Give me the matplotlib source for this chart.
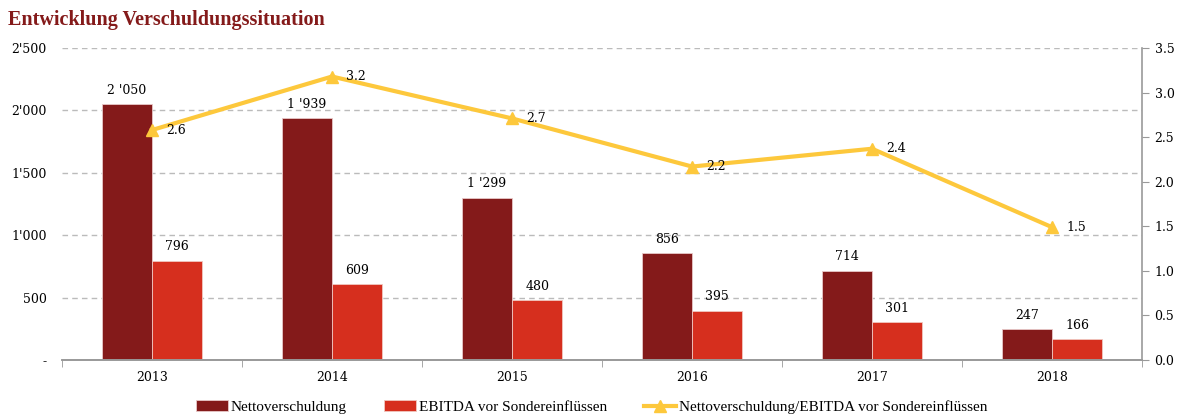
import numpy as np
import matplotlib.pyplot as plt
from matplotlib.ticker import FuncFormatter

years = ['2013', '2014', '2015', '2016', '2017', '2018']
netto = [2050, 1939, 1299, 856, 714, 247]
ebitda = [796, 609, 480, 395, 301, 166]
ratio = [2.58, 3.18, 2.71, 2.17, 2.37, 1.49]

DARK = '#841a1a'
RED = '#d62f1e'
YELLOW = '#fdc83c'
GREY = '#999999'
NUM_FONT = ['DejaVu Serif']

plt.rcParams['font.family'] = ['Liberation Serif', 'DejaVu Serif']

fig = plt.figure(figsize=(11.83, 4.16), dpi=100)
ax = fig.add_axes([62 / 1183, 1 - 360 / 416, 1080 / 1183, 312 / 416])
ax2 = ax.twinx()

x = np.arange(len(years))
w = 0.28

b1 = ax.bar(x - w / 2, netto, w, color=DARK, edgecolor='#e8c8c8', linewidth=0.6,
            label='Nettoverschuldung', zorder=2)
b2 = ax.bar(x + w / 2, ebitda, w, color=RED, edgecolor='#f0c8c0', linewidth=0.6,
            label='EBITDA vor Sondereinflüssen', zorder=2)


def fmt_k(v):
    return f'{v:,}'.replace(',', " '")


for xi, v in zip(x, netto):
    ax.text(xi - w / 2, v + 60, fmt_k(v), ha='center', va='bottom', fontsize=9,
            family=NUM_FONT)
for xi, v in zip(x, ebitda):
    ax.text(xi + w / 2, v + 60, fmt_k(v), ha='center', va='bottom', fontsize=9,
            family=NUM_FONT)

ax.set_xlim(-0.5, len(years) - 0.5)
ax.set_ylim(0, 2500)
ax.set_yticks([0, 500, 1000, 1500, 2000, 2500])
ax.yaxis.set_major_formatter(FuncFormatter(
    lambda v, p: '-' if v == 0 else f'{int(v):,}'.replace(',', "'")))
ax.set_xticks(x)
ax.set_xticklabels(years)
ax.set_xticks(np.arange(-0.5, len(years)), minor=True)
ax.tick_params(axis='x', which='major', length=0, pad=8)
ax.tick_params(axis='x', which='minor', length=5, color=GREY)
ax.tick_params(axis='y', length=0, pad=11)
ax.grid(axis='y', color='#bbbbbb', linestyle=(0, (4, 3)), linewidth=1, zorder=0)
ax.set_axisbelow(True)

for lab in ax.get_xticklabels() + ax.get_yticklabels():
    lab.set_family(NUM_FONT)
    lab.set_fontsize(9)

for a in (ax, ax2):
    a.spines['top'].set_visible(False)
    a.spines['left'].set_visible(False)
    a.spines['right'].set_visible(False)
    a.spines['bottom'].set_color(GREY)
    a.spines['bottom'].set_linewidth(1.2)
ax2.spines['right'].set_visible(True)
ax2.spines['right'].set_color(GREY)
ax2.spines['right'].set_linewidth(1.2)

line, = ax2.plot(x, ratio, color=YELLOW, linewidth=3, marker='^', markersize=8,
                 label='Nettoverschuldung/EBITDA vor Sondereinflüssen', zorder=3)
for xi, v in zip(x, ratio):
    ax2.text(xi + 0.08, v, f'{v:.1f}', ha='left', va='center', fontsize=9,
             family=NUM_FONT)
ax2.set_ylim(0, 3.5)
ax2.set_yticks(np.arange(0, 3.51, 0.5))
ax2.yaxis.set_major_formatter(FuncFormatter(lambda v, p: f'{v:.1f}'))
ax2.tick_params(axis='y', length=5, color=GREY, pad=4)
for lab in ax2.get_yticklabels():
    lab.set_family(NUM_FONT)
    lab.set_fontsize(9)

fig.text(8 / 1183, 1 - 20 / 416, 'Entwicklung Verschuldungssituation', fontsize=14.5,
         fontweight='bold', color=DARK, ha='left', va='center')

fig.legend(handles=[b1, b2, line], loc='center', bbox_to_anchor=(0.5, 1 - 407 / 416),
           ncol=3, frameon=False, fontsize=11, handlelength=2.1, handleheight=0.7,
           columnspacing=2.4, handletextpad=0.2)

fig.savefig('out.png', dpi=100)
